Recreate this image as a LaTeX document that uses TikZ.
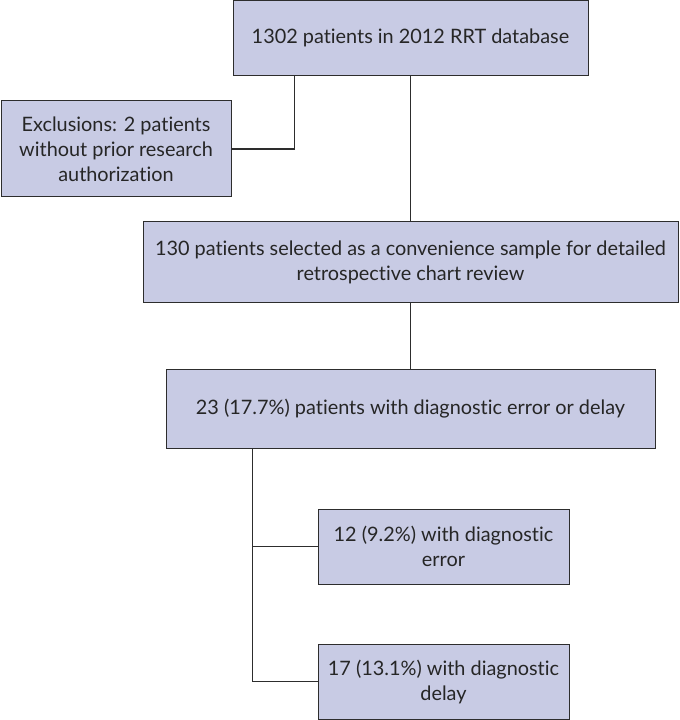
\documentclass[tikz,border=0pt]{standalone}
\usepackage{fontspec}
\setmainfont{Lato}[Ligatures={NoCommon}]
\usetikzlibrary{positioning}

\definecolor{boxfill}{RGB}{200,203,228}
\definecolor{edgegray}{RGB}{45,45,45}

\tikzset{every picture/.style={line width=0.75pt}}
\tikzset{
  flowbox/.style={draw=edgegray, fill=boxfill, align=center, inner sep=2pt,
    text=black!85, font=\fontsize{14.9}{18.75}\selectfont},
  link/.style={draw=edgegray, line width=0.9pt}
}

\begin{document}
\begin{tikzpicture}[x=0.75pt,y=0.75pt,yscale=-1,xscale=1]
		\useasboundingbox (0,0) rectangle (679,720);

		% Boxes
		\node [flowbox, minimum width=266.25pt, minimum height=56.25pt] (db) at (410.5,38) {1302 patients in 2012 RRT database};
		\node [flowbox, minimum width=172.5pt, minimum height=72pt] (excl) at (116,149) {Exclusions: 2 patients\\without prior research\\authorization};
		\node [flowbox, minimum width=401.25pt, minimum height=60pt] (sample) at (410.5,262) {130 patients selected as a convenience sample for detailed\\retrospective chart review};
		\node [flowbox, minimum width=366.75pt, minimum height=59.25pt] (errdel) at (410.5,408.5) {23 (17.7\%) patients with diagnostic error or delay};
		\node [flowbox, minimum width=188.25pt, minimum height=56.25pt] (err) at (443.5,546.5) {12 (9.2\%) with diagnostic\\error};
		\node [flowbox, minimum width=188.25pt, minimum height=56.25pt] (del) at (443.5,681.5) {17 (13.1\%) with diagnostic\\delay};

		% Connectors
		\draw [link] ([xshift=46.5pt]db.south west) |- (excl.east);
		\draw [link] (db.south) -- (sample.north);
		\draw [link] (sample.south) -- (errdel.north);
		\coordinate (trunk) at ([xshift=65.25pt]errdel.south west);
		\draw [link] (trunk) |- (del.west);
		\draw [link] (err.west) -- (err.west -| trunk);
\end{tikzpicture}
\end{document}
